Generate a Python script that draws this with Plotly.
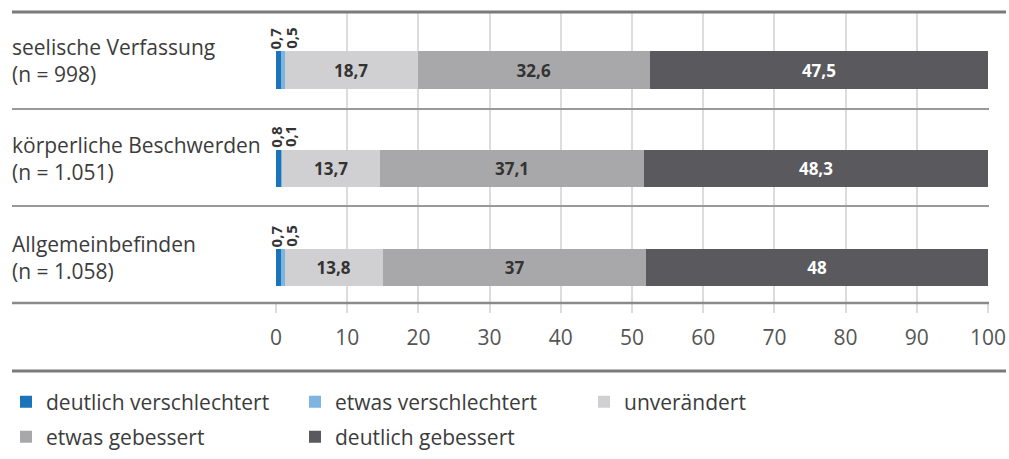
import plotly.graph_objects as go

categories = ["seelische Verfassung", "körperliche Beschwerden", "Allgemeinbefinden"]
n_labels = ["(n = 998)", "(n = 1.051)", "(n = 1.058)"]
series_names = ["deutlich verschlechtert", "etwas verschlechtert", "unverändert",
                "etwas gebessert", "deutlich gebessert"]
deutlich_verschlechtert = [0.7, 0.8, 0.7]
etwas_verschlechtert = [0.5, 0.1, 0.5]
unveraendert = [18.7, 13.7, 13.8]
etwas_gebessert = [32.6, 37.1, 37.0]
deutlich_gebessert = [47.5, 48.3, 48.0]
tick_values = [0, 10, 20, 30, 40, 50, 60, 70, 80, 90, 100]

series = [deutlich_verschlechtert, etwas_verschlechtert, unveraendert,
          etwas_gebessert, deutlich_gebessert]
colors = ["#1b74ba", "#7db4e0", "#d0d0d2", "#a8a8aa", "#5a5a5e"]
text_colors = ["#333333", "#333333", "#333333", "#333333", "#ffffff"]
legend_ids = ["legend", "legend", "legend", "legend2", "legend2"]

FONT = "Open Sans"


def fmt(v):
    s = ("%.1f" % v).replace(".", ",")
    if s.endswith(",0"):
        s = s[:-2]
    return s


W, H = 1009, 459
L, R, T, B = 276, 21, 12, 156
pw = W - L - R
ph = H - T - B


def px_x(p):
    return (p - L) / pw


def px_y(p):
    return 1 - (p - T) / ph


fig = go.Figure()
for i, (name, vals) in enumerate(zip(series_names, series)):
    show_text = i >= 2
    fig.add_trace(go.Bar(
        name=name, y=categories, x=vals, orientation="h",
        marker=dict(color=colors[i], line=dict(width=0)),
        width=0.374,
        text=[fmt(v) for v in vals] if show_text else None,
        textposition="inside" if show_text else "none",
        insidetextanchor="middle",
        textfont=dict(family=FONT, size=17, color=text_colors[i], weight="bold"),
        hoverinfo="skip",
        legend=legend_ids[i],
    ))

annotations = []
for ci, cat in enumerate(categories):
    annotations.append(dict(
        x=px_x(10), xref="paper", y=cat, yref="y", xanchor="left", yanchor="middle",
        yshift=10, align="left", showarrow=False,
        text=cat + "<br>" + n_labels[ci],
        font=dict(family=FONT, size=21, color="#3c3c3c"),
    ))
    annotations.append(dict(
        x=deutlich_verschlechtert[ci] / 2, y=cat, xref="x", yref="y",
        yshift=32, xshift=-3, textangle=-90, showarrow=False,
        text=fmt(deutlich_verschlechtert[ci]),
        font=dict(family=FONT, size=15, color="#333333", weight="bold"),
    ))
    annotations.append(dict(
        x=deutlich_verschlechtert[ci] + etwas_verschlechtert[ci] / 2, y=cat,
        xref="x", yref="y", yshift=32, xshift=8, textangle=-90, showarrow=False,
        text=fmt(etwas_verschlechtert[ci]),
        font=dict(family=FONT, size=15, color="#333333", weight="bold"),
    ))

shapes = []
shapes.append(dict(type="line", xref="paper", yref="paper", x0=px_x(12), x1=px_x(1006),
                   y0=px_y(12), y1=px_y(12), line=dict(color="#7a7a7a", width=3)))
for yy in (109, 206):
    shapes.append(dict(type="line", xref="paper", yref="paper", x0=px_x(12), x1=px_x(989),
                       y0=px_y(yy), y1=px_y(yy), line=dict(color="#999999", width=2)))
shapes.append(dict(type="line", xref="paper", yref="paper", x0=px_x(12), x1=px_x(989),
                   y0=px_y(303), y1=px_y(303), line=dict(color="#8a8a8a", width=2.5)))
shapes.append(dict(type="line", xref="paper", yref="paper", x0=px_x(12), x1=px_x(1006),
                   y0=px_y(371), y1=px_y(371), line=dict(color="#7a7a7a", width=3)))

legend_common = dict(orientation="h", xanchor="left", yanchor="middle",
                     font=dict(family=FONT, size=21, color="#3c3c3c"),
                     entrywidth=244, entrywidthmode="pixels", traceorder="normal",
                     itemclick=False, itemdoubleclick=False, bgcolor="rgba(0,0,0,0)")

fig.update_layout(
    width=W, height=H,
    margin=dict(l=L, r=R, t=T, b=B, pad=0, autoexpand=False),
    barmode="stack",
    paper_bgcolor="white", plot_bgcolor="white",
    showlegend=True,
    legend=dict(x=px_x(6), y=px_y(402), **legend_common),
    legend2=dict(x=px_x(6), y=px_y(437), **legend_common),
    xaxis=dict(range=[0, 100], tickvals=tick_values, ticktext=[str(v) for v in tick_values],
               showgrid=True, gridcolor="#dcdcdc", gridwidth=1.5, zeroline=False,
               ticks="outside", ticklen=9, tickcolor="#dcdcdc", tickwidth=1.5,
               showline=False, ticklabelstandoff=7, automargin=False,
               tickfont=dict(family=FONT, size=21, color="#555555")),
    yaxis=dict(type="category", categoryorder="array", categoryarray=categories,
               range=[2.354, -0.586], showticklabels=False, showgrid=False,
               zeroline=False, showline=False, ticks="", automargin=False),
    annotations=annotations,
    shapes=shapes,
    font=dict(family=FONT),
)

fig.write_html(
    "out.html",
    config={"displayModeBar": False},
    post_script="document.body.style.margin='0';document.body.style.overflow='hidden';",
)
